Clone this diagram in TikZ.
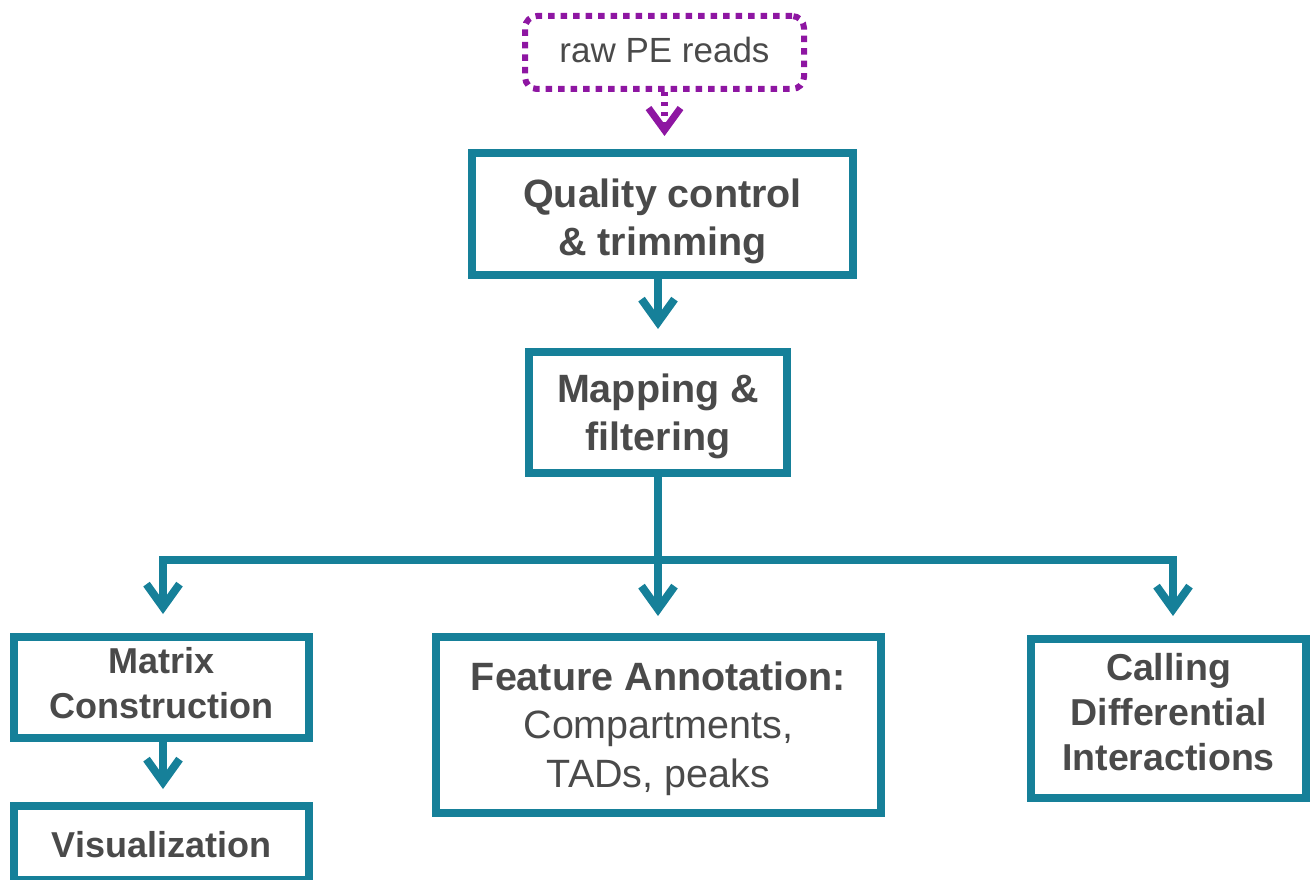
\documentclass[tikz,border=0pt]{standalone}
\usepackage{fontspec}
\setmainfont{Liberation Sans}
\usetikzlibrary{arrows.meta}
\definecolor{tealc}{RGB}{22,128,153}
\definecolor{purpc}{RGB}{142,22,162}
\definecolor{txtc}{RGB}{74,74,74}
\begin{document}
\begin{tikzpicture}[x=1pt,y=-1pt,
  box/.style={draw=tealc, line width=8pt, inner sep=0pt, align=center, text=txtc, text depth=20pt},
  bigf/.style={font=\fontsize{39.5}{48}\selectfont\bfseries},
  tl/.style={draw=tealc, line width=8pt, line join=miter},
  tarr/.style={tl, -{Straight Barb[length=23pt,width=33pt]}},
  parr/.style={draw=purpc, line width=7pt, dash pattern=on 4pt off 6pt, -{Straight Barb[length=22pt,width=32pt]}}
]
\useasboundingbox (0,0) rectangle (1310,880);

\node[draw=purpc, line width=6pt, dash pattern=on 6.5pt off 6pt, rounded corners=12pt,
      minimum width=279pt, minimum height=73pt, inner sep=0pt, text=txtc,
      font=\fontsize{35}{42}\selectfont, text height=30pt, text depth=9pt]
      (raw) at (664.5,52.5) {raw PE reads};

\node[box, bigf, minimum width=381pt, minimum height=122pt, text height=100pt, text depth=18pt]
      (qc) at (662.5,214) {Quality control\\\& trimming};

\node[box, bigf, minimum width=258pt, minimum height=121pt, text height=95pt]
      (map) at (658,412.5) {Mapping \&\\filtering};

\node[box, font=\fontsize{36}{45}\selectfont\bfseries, minimum width=295pt, minimum height=101pt, text height=81pt]
      (mat) at (161.5,687.5) {Matrix\\Construction};

\node[box, font=\fontsize{36}{45}\selectfont\bfseries, minimum width=295pt, minimum height=74pt, text height=48pt, text depth=20pt]
      (vis) at (161.5,843) {Visualization};

\node[box, font=\fontsize{39.5}{48.5}\selectfont, minimum width=445pt, minimum height=176pt, text height=144pt]
      (feat) at (658.5,725) {\textbf{Feature Annotation:}\\Compartments,\\TADs, peaks};

\node[box, font=\fontsize{37.5}{45}\selectfont\bfseries, minimum width=275pt, minimum height=159pt, text height=123pt]
      (call) at (1168.5,718.5) {Calling\\Differential\\Interactions};

\coordinate (bus) at (658,560);

\draw[parr, shorten >=13pt] (raw.south) -- (raw.south |- qc.north);
\draw[tarr, shorten >=19pt] (qc.south -| map.north) -- (map.north);
\draw[tl] (map.south) -- (bus);
\draw[tarr, shorten >=19pt] (bus) -| ([xshift=1.5pt]mat.north);
\draw[tarr, shorten >=17pt] (bus) -- (bus |- feat.north);
\draw[tarr, shorten >=19pt] (bus) -| ([xshift=4.5pt]call.north);
\draw[tarr, shorten >=13pt] ([xshift=1.5pt]mat.south) -- ([xshift=1.5pt]vis.north);
\end{tikzpicture}
\end{document}
